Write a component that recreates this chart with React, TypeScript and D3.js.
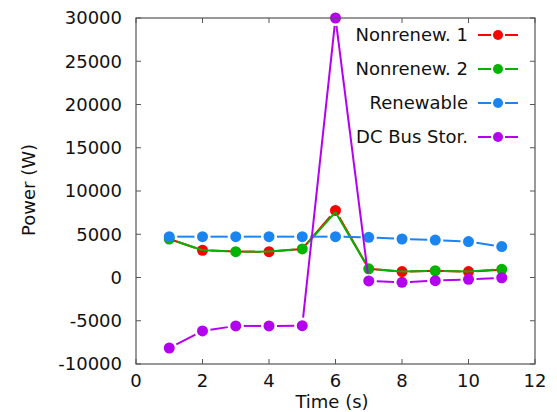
import { useRef, useEffect } from 'react';
import * as d3 from 'd3';

const times = [1, 2, 3, 4, 5, 6, 7, 8, 9, 10, 11];
const nonrenew1 = [4450, 3150, 3000, 2980, 3300, 7750, 1000, 680, 780, 680, 900];
const nonrenew2 = [4450, 3150, 2980, 3000, 3300, 7550, 1000, 700, 780, 700, 950];
const renewable = [4720, 4720, 4720, 4720, 4720, 4720, 4650, 4450, 4330, 4150, 3570];
const dcBusStor = [-8150, -6180, -5600, -5600, -5570, 30000, -400, -560, -370, -210, -30];

const xTicks = [0, 2, 4, 6, 8, 10, 12];
const yTicks = [-10000, -5000, 0, 5000, 10000, 15000, 20000, 25000, 30000];

const series = [
  { name: 'Nonrenew. 1', values: nonrenew1, color: '#ff0000', every: (i: number) => i % 2 === 1 },
  { name: 'Nonrenew. 2', values: nonrenew2, color: '#00b400', every: (i: number) => i % 2 === 0 },
  { name: 'Renewable', values: renewable, color: '#1a85f0', every: () => true },
  { name: 'DC Bus Stor.', values: dcBusStor, color: '#b400f0', every: () => true },
];

const App = () => {
  const svgRef = useRef<SVGSVGElement>(null);

  useEffect(() => {
    const svg = d3.select(svgRef.current);
    svg.selectAll('*').remove();
    const width = 557;
    const height = 412;
    const margin = { top: 18, right: 22, bottom: 48, left: 136 };
    const font = 'DejaVu Sans, sans-serif';

    const x = d3.scaleLinear().domain([0, 12]).range([margin.left, width - margin.right]);
    const y = d3.scaleLinear().domain([-10000, 30000]).range([height - margin.bottom, margin.top]);

    const r = 5.5;
    const gap = 8;

    series.forEach(s => {
      const pts = s.values.map((v, i) => ({ px: x(times[i]), py: y(v), mark: s.every(i) }));
      const g = svg.append('g');
      // segments, shortened where a point is drawn
      for (let i = 0; i < pts.length - 1; i++) {
        const a = pts[i];
        const b = pts[i + 1];
        const dx = b.px - a.px;
        const dy = b.py - a.py;
        const len = Math.hypot(dx, dy);
        const ux = dx / len;
        const uy = dy / len;
        const s0 = a.mark ? gap : 0;
        const s1 = b.mark ? gap : 0;
        if (len <= s0 + s1) continue;
        g.append('line')
          .attr('x1', a.px + ux * s0).attr('y1', a.py + uy * s0)
          .attr('x2', b.px - ux * s1).attr('y2', b.py - uy * s1)
          .attr('stroke', s.color)
          .attr('stroke-width', 2);
      }
      g.selectAll('circle')
        .data(pts.filter(p => p.mark))
        .join('circle')
        .attr('cx', d => d.px)
        .attr('cy', d => d.py)
        .attr('r', r)
        .attr('fill', s.color);
    });

    // frame
    const axisColor = '#555';
    svg.append('rect')
      .attr('x', margin.left).attr('y', margin.top)
      .attr('width', width - margin.left - margin.right)
      .attr('height', height - margin.top - margin.bottom)
      .attr('fill', 'none')
      .attr('stroke', axisColor)
      .attr('stroke-width', 1.2);

    const tl = 5;
    xTicks.forEach(t => {
      svg.append('line').attr('x1', x(t)).attr('x2', x(t))
        .attr('y1', y(-10000)).attr('y2', y(-10000) - tl).attr('stroke', axisColor);
      svg.append('line').attr('x1', x(t)).attr('x2', x(t))
        .attr('y1', y(30000)).attr('y2', y(30000) + tl).attr('stroke', axisColor);
      svg.append('text')
        .attr('x', x(t)).attr('y', 387)
        .attr('text-anchor', 'middle')
        .attr('font-family', font).attr('font-size', 18).attr('fill', '#111')
        .text(t);
    });
    yTicks.forEach(t => {
      svg.append('line').attr('x1', x(0)).attr('x2', x(0) + tl)
        .attr('y1', y(t)).attr('y2', y(t)).attr('stroke', axisColor);
      svg.append('line').attr('x1', x(12)).attr('x2', x(12) - tl)
        .attr('y1', y(t)).attr('y2', y(t)).attr('stroke', axisColor);
      svg.append('text')
        .attr('x', 122).attr('y', y(t))
        .attr('dy', '0.36em')
        .attr('text-anchor', 'end')
        .attr('font-family', font).attr('font-size', 18).attr('fill', '#111')
        .text(t);
    });

    svg.append('text')
      .attr('x', 332).attr('y', 408)
      .attr('text-anchor', 'middle')
      .attr('font-family', font).attr('font-size', 18).attr('fill', '#111')
      .text('Time (s)');
    svg.append('text')
      .attr('transform', 'translate(35,190) rotate(-90)')
      .attr('text-anchor', 'middle')
      .attr('font-family', font).attr('font-size', 18).attr('fill', '#111')
      .text('Power (W)');

    // legend
    const legend = svg.append('g');
    series.forEach((s, i) => {
      const ly = 35 + i * 34;
      legend.append('text')
        .attr('x', 468).attr('y', ly)
        .attr('dy', '0.36em')
        .attr('text-anchor', 'end')
        .attr('font-family', font).attr('font-size', 18).attr('fill', '#111')
        .text(s.name);
      legend.append('line').attr('x1', 478).attr('x2', 491).attr('y1', ly).attr('y2', ly)
        .attr('stroke', s.color).attr('stroke-width', 2);
      legend.append('line').attr('x1', 505).attr('x2', 518).attr('y1', ly).attr('y2', ly)
        .attr('stroke', s.color).attr('stroke-width', 2);
      legend.append('circle').attr('cx', 498).attr('cy', ly).attr('r', 5).attr('fill', s.color);
    });
  }, []);

  return <svg ref={svgRef} width={557} height={412} style={{ position: 'absolute', left: 0, top: 0, background: '#fff' }} />;
};

export default App;
